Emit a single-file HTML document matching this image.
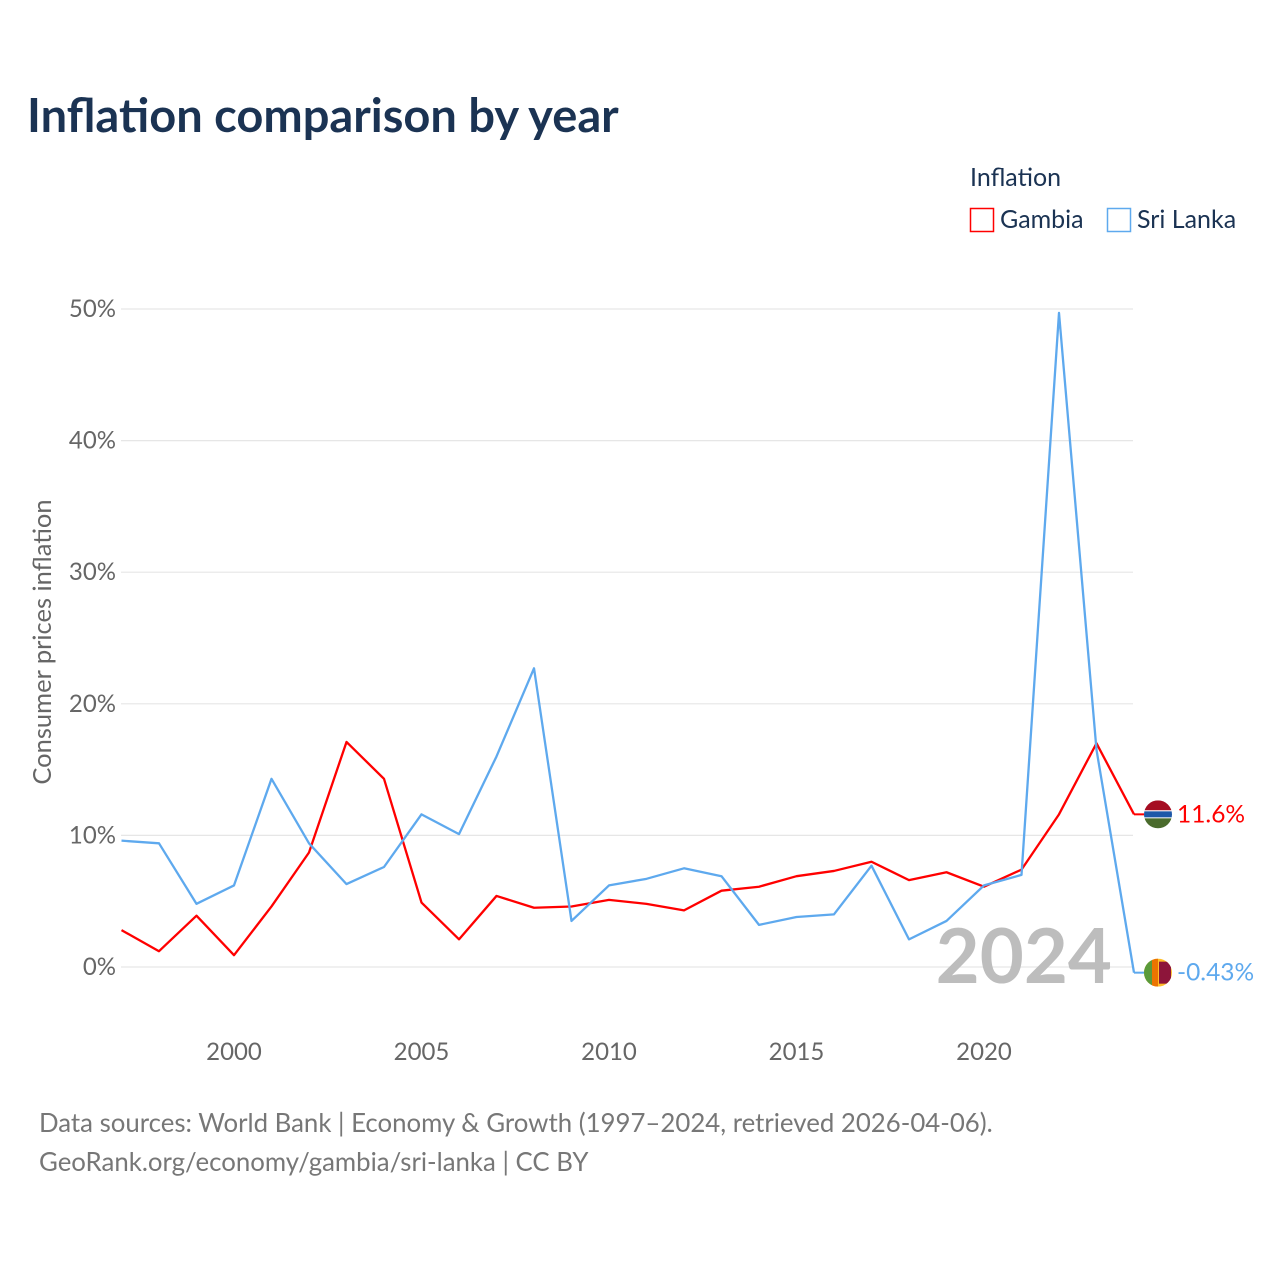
<!DOCTYPE html>
<html><head><meta charset="utf-8"><style>
body{margin:0;background:#fff;font-family:"Liberation Sans",sans-serif}
svg text{font-family:"Lato","Liberation Sans",sans-serif}
</style></head><body>
<svg id="chart" width="1280" height="1280" viewBox="0 0 1280 1280">
<rect width="1280" height="1280" fill="#fff"/>
<text x="27" y="132" font-size="47" font-weight="bold" fill="#1b3353">Inflation comparison by year</text>
<g>
<text x="970" y="186" font-size="25" fill="#1b3353">Inflation</text>
<g><rect x="970.5" y="208.5" width="23" height="23" fill="none" stroke="#ff0000" stroke-width="1.5"/><text x="1000" y="228" font-size="25" fill="#1b3353">Gambia</text></g>
<g><rect x="1107.5" y="208.5" width="23" height="23" fill="none" stroke="#5ea9ee" stroke-width="1.5"/><text x="1137" y="228" font-size="25" fill="#1b3353">Sri Lanka</text></g>
</g>
<g id="grid"></g><g id="xt"></g>
<text transform="translate(51,642) rotate(-90)" text-anchor="middle" font-size="25.5" fill="#666">Consumer prices inflation</text>
<text x="1112" y="983" text-anchor="end" font-size="76" font-weight="bold" fill="#bdbdbd">2024</text>
<g id="lines"></g>
<text x="39" y="1132" font-size="25.8" fill="#777">Data sources: World Bank | Economy &amp; Growth (1997–2024, retrieved 2026-04-06).</text>
<text x="39" y="1171" font-size="25.8" fill="#777">GeoRank.org/economy/gambia/sri-lanka | CC BY</text>
</svg>
<script>
const years=[1997,1998,1999,2000,2001,2002,2003,2004,2005,2006,2007,2008,2009,2010,2011,2012,2013,2014,2015,2016,2017,2018,2019,2020,2021,2022,2023,2024];
const gambia=[2.8,1.2,3.9,0.9,4.6,8.7,17.1,14.3,4.9,2.1,5.4,4.5,4.6,5.1,4.8,4.3,5.8,6.1,6.9,7.3,8.0,6.6,7.2,6.1,7.4,11.6,17.0,11.6];
const sriLanka=[9.6,9.4,4.8,6.2,14.3,9.4,6.3,7.6,11.6,10.1,16.0,22.7,3.5,6.2,6.7,7.5,6.9,3.2,3.8,4.0,7.7,2.1,3.5,6.2,7.0,49.7,16.5,-0.43];
const yTicks=[0,10,20,30,40,50];
const xTicks=[2000,2005,2010,2015,2020];
const NS="http://www.w3.org/2000/svg";
const X=v=>121.5+(v-1997)*37.5, Y=v=>967-v*13.16;
function mk(t,a,p){const e=document.createElementNS(NS,t);for(const k in a)e.setAttribute(k,a[k]);p.appendChild(e);return e;}
const grid=document.getElementById('grid');
yTicks.forEach(t=>{
 const l=mk('line',{x1:121,x2:1133,y1:Y(t),y2:Y(t),stroke:'#e6e6e6','stroke-width':1.2},grid);
 
 
 const tx=mk('text',{x:116,y:Y(t)+8,'text-anchor':'end','font-size':24,fill:'#666'},grid);
 tx.textContent=t+'%';
 
 
});
const xt=document.getElementById('xt');
xTicks.forEach(t=>{
 const tx=mk('text',{x:X(t),y:1060,'text-anchor':'middle','font-size':24,fill:'#666'},xt);
 tx.textContent=t;
 
 
});
const lines=document.getElementById('lines');
function series(vals,col,name,label,flag){
 const pts=vals.map((v,i)=>X(years[i])+','+Y(v)).join(' ');
 const pl=mk('polyline',{points:pts,fill:'none',stroke:col,'stroke-width':2.3,'stroke-linejoin':'round'},lines);
 
 
 const last=vals[vals.length-1], ly=Y(last);
 mk('line',{x1:X(2024),x2:1146,y1:ly,y2:ly,stroke:col,'stroke-width':2},lines);
 const g=mk('g',{},lines);
 
 
 const cx=1158, r=14;
 const cp=mk('clipPath',{id:'c'+name},g); mk('circle',{cx:cx,cy:ly,r:r},cp);
 const gg=mk('g',{'clip-path':'url(#c'+name+')'},g);
 if(flag==='gm'){
  mk('rect',{x:cx-r,y:ly-r,width:2*r,height:10,fill:'#a50d22'},gg);
  mk('rect',{x:cx-r,y:ly-4,width:2*r,height:8,fill:'#fff'},gg);
  mk('rect',{x:cx-r,y:ly-3,width:2*r,height:6,fill:'#1d58a8'},gg);
  mk('rect',{x:cx-r,y:ly+4,width:2*r,height:10,fill:'#4a6b2c'},gg);
 } else {
  mk('rect',{x:cx-r,y:ly-r,width:2*r,height:2*r,fill:'#ffbe29'},gg);
  mk('rect',{x:cx-r,y:ly-r,width:8,height:2*r,fill:'#5a9a3a'},gg);
  mk('rect',{x:cx-6,y:ly-r,width:6,height:2*r,fill:'#eb7400'},gg);
  mk('rect',{x:cx+1,y:ly-11,width:12,height:22,fill:'#8d153a'},gg);
 }
 const tx=mk('text',{x:1177,y:ly+8,'font-size':24.5,fill:col},lines);
 tx.textContent=label;
 
 
}
series(gambia,'#ff0000','gambia','11.6%','gm');
series(sriLanka,'#5ea9ee','sri-lanka','-0.43%','lk');
</script>
</body></html>
